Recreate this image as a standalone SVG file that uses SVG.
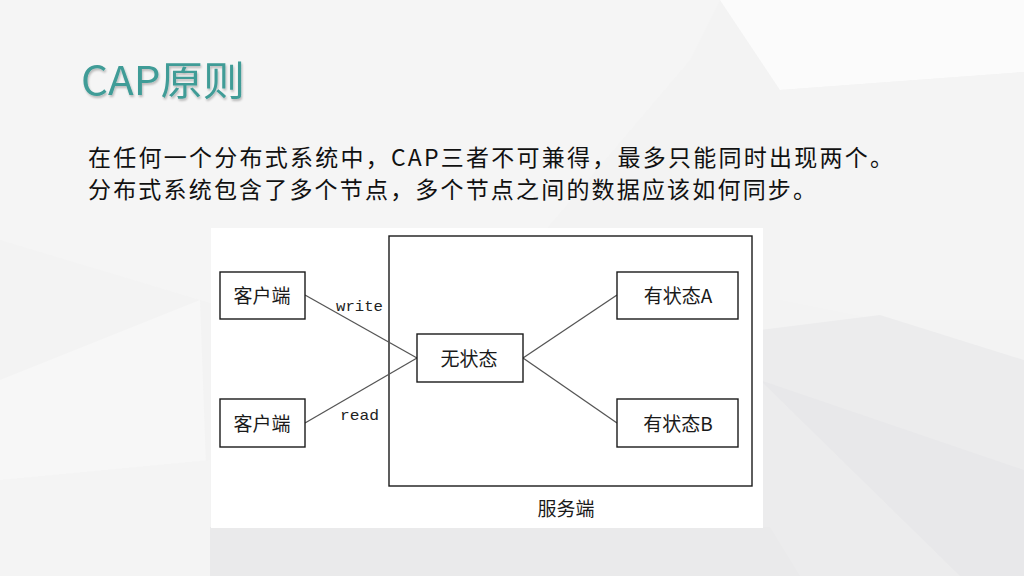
<svg xmlns="http://www.w3.org/2000/svg" width="1024" height="576" viewBox="0 0 1024 576">
  <style>
    .box { fill: #ffffff; stroke: #1a1a1a; stroke-width: 1.4; }
    .lbl { font-family: "Noto Sans CJK SC", "Liberation Sans", sans-serif; font-size: 19px; fill: #1a1a1a; text-anchor: middle; }
    .edge { stroke: #555555; stroke-width: 1.3; fill: none; }
    .mono { font-family: "Liberation Mono", "DejaVu Sans Mono", monospace; font-size: 15px; fill: #222222; }
    .body { font-family: "Noto Sans CJK SC", "Liberation Sans", sans-serif; font-size: 23px; fill: #111111; }
  </style>
  <defs>
    <filter id="sh" x="-5%" y="-5%" width="110%" height="120%">
      <feGaussianBlur in="SourceAlpha" stdDeviation="1.2"/>
      <feOffset dx="1" dy="2" result="b"/>
      <feComponentTransfer><feFuncA type="linear" slope="0.25"/></feComponentTransfer>
      <feMerge><feMergeNode/><feMergeNode in="SourceGraphic"/></feMerge>
    </filter>
  </defs>

  <!-- background low-poly -->
  <g id="background">
    <rect x="0" y="0" width="1024" height="576" fill="#f3f3f3"/>
    <polygon points="0,0 720,0 690,60 520,260 300,330 0,240" fill="#f5f5f5"/>
    <polygon points="260,0 720,0 780,90 1024,72 1024,0" fill="#fbfbfb"/>
    <polygon points="780,90 1024,72 1024,320 880,320 780,300" fill="#f4f4f4"/>
    <polygon points="760,330 880,315 1024,360 1024,576 760,576" fill="#ececed"/>
    <polygon points="760,380 1024,470 1024,576 960,576" fill="#e8e8ea"/>
    <polygon points="0,380 200,300 210,576 0,576" fill="#f7f7f7"/>
    <polygon points="200,527 770,527 800,576 210,576" fill="#eaeaeb"/>
    <polygon points="0,480 210,460 210,576 0,576" fill="#f4f4f4"/>
  </g>

  <!-- title -->
  <g id="title">
    <text x="81" y="95" font-family="Noto Sans CJK SC, Liberation Sans, sans-serif" font-size="40" fill="#3f9c97" filter="url(#sh)" textLength="164" lengthAdjust="spacingAndGlyphs">CAP原则</text>
  </g>

  <!-- body text -->
  <g id="body-text">
    <text class="body" x="88" y="166" textLength="805" lengthAdjust="spacing">在任何一个分布式系统中，CAP三者不可兼得，最多只能同时出现两个。</text>
    <text class="body" x="88" y="198" textLength="728" lengthAdjust="spacing">分布式系统包含了多个节点，多个节点之间的数据应该如何同步。</text>
  </g>

  <!-- diagram panel -->
  <rect id="panel" x="211" y="228" width="552" height="300" fill="#ffffff"/>

  <g id="server">
    <rect class="box" x="389" y="236" width="363" height="250" fill="none"/>
    <text class="lbl" x="566" y="516">服务端</text>
  </g>

  <g id="connectors">
    <line class="edge" x1="305" y1="295" x2="417" y2="358"/>
    <line class="edge" x1="305" y1="423" x2="417" y2="358"/>
    <line class="edge" x1="523" y1="358" x2="617" y2="295"/>
    <line class="edge" x1="523" y1="358" x2="617" y2="423"/>
    <text class="mono" x="336" y="311" textLength="47" lengthAdjust="spacingAndGlyphs">write</text>
    <text class="mono" x="340" y="420" textLength="39" lengthAdjust="spacingAndGlyphs">read</text>
  </g>

  <g id="client1">
    <rect class="box" x="220" y="272" width="85" height="47"/>
    <text class="lbl" x="262" y="303">客户端</text>
  </g>
  <g id="client2">
    <rect class="box" x="220" y="399" width="85" height="48"/>
    <text class="lbl" x="262" y="431">客户端</text>
  </g>
  <g id="stateless">
    <rect class="box" x="417" y="334" width="106" height="48"/>
    <text class="lbl" x="469" y="366">无状态</text>
  </g>
  <g id="statefulA">
    <rect class="box" x="617" y="272" width="121" height="47"/>
    <text class="lbl" x="678" y="303">有状态A</text>
  </g>
  <g id="statefulB">
    <rect class="box" x="617" y="399" width="121" height="48"/>
    <text class="lbl" x="678" y="431">有状态B</text>
  </g>
</svg>
